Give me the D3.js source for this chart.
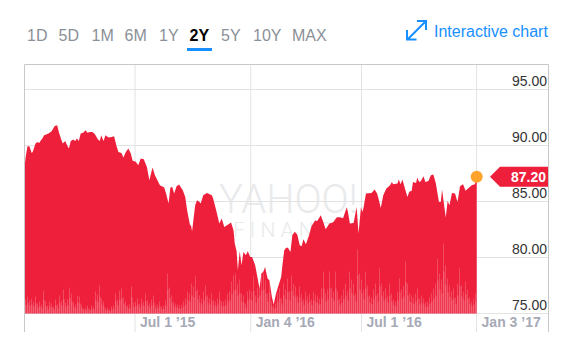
<!DOCTYPE html>
<html lang="en">
<head>
<meta charset="UTF-8">
<title>2Y price chart</title>
<script src="https://cdn.jsdelivr.net/npm/d3@7"></script>
<style>
    html, body { margin: 0; padding: 0; background: #fff; }
    svg { display: block; font-family: "Liberation Sans", Arial, sans-serif; }
    .range { font-size: 16px; fill: #8b9097; }
    .range.active { fill: #000; font-weight: bold; }
    .y-axis text { font-size: 14px; fill: #333; }
    .x-axis text { font-size: 14px; font-weight: bold; fill: #a6a9b6; }
    .domain { display: none; }
</style>
</head>
<body>
<svg id="chart" width="583" height="362"></svg>
<script>
// range buttons
var ranges = ['1D', '5D', '1M', '6M', '1Y', '2Y', '5Y', '10Y', 'MAX'];
var activeRange = '2Y';

// days since the first session, and the price on that day
var startDate = new Date(2015, 0, 5);
var days = [0,1,4,7,11,13,17,20,23,25,28,31,38,43,48,52,55,59,61,65,68,71,74,78,81,84,87,90,94,98,101,105,109,113,118,121,123,127,130,135,140,144,148,151,156,159,163,167,171,174,179,183,187,192,197,201,206,210,214,218,225,228,232,235,238,241,245,249,255,259,262,267,268,270,275,278,282,284,288,294,302,304,309,314,318,322,329,333,337,339,342,344,347,350,353,357,360,364,367,372,376,379,382,385,388,392,395,399,402,405,409,414,416,419,422,425,429,432,436,440,444,447,450,454,459,463,469,472,478,482,486,492,498,504,509,514,520,522,525,531,536,539,543,545,547,551,560,565,569,572,575,579,584,590,593,595,602,604,607,610,614,618,621,625,627,632,634,637,640,644,647,652,656,660,664,669,672,674,677,680,683,686,690,695,699,703,708,712,716,722,727,730];
var prices = [88.42,88.96,89.94,89.94,89.31,89.52,90.18,90.32,90.23,90.41,90.63,90.92,91.07,91.28,91.75,91.81,91.13,90.47,90.18,90.41,90.03,89.73,90.41,90.54,90.41,90.63,90.41,91.07,91.13,91.37,91.13,91.21,91.21,91.01,90.54,90.41,90.92,90.41,90.92,90.71,90.77,90.83,89.94,89.43,89.34,88.93,89.43,89.73,89.29,88.64,88.54,88.24,88.84,88.78,88.09,86.90,88.04,87.35,86.90,86.46,86.25,85.71,84.82,86.25,86.30,85.71,86.37,86.52,86.01,85.41,84.22,82.79,82.97,82.35,84.67,85.12,84.96,84.82,85.56,85.77,85.56,85.27,84.22,83.04,83.48,82.73,82.97,83.13,82.44,81.25,80.56,78.87,80.56,79.31,80.50,80.21,80.56,80.05,80.05,79.31,78.13,77.23,78.57,78.71,79.16,78.13,77.97,76.48,75.80,76.63,77.38,78.27,79.31,80.65,80.86,80.86,80.50,81.99,82.29,82.05,81.10,81.01,81.63,81.19,81.99,82.79,83.33,83.24,83.78,83.18,82.53,83.04,83.15,83.60,83.60,83.51,84.49,84.04,83.04,83.09,84.52,82.14,84.52,84.07,84.40,85.71,85.77,86.07,85.71,85.12,84.43,85.56,86.16,86.46,86.75,86.54,86.61,86.96,86.54,86.96,86.16,85.41,85.86,85.95,86.75,86.66,87.14,86.75,86.84,87.26,86.75,86.84,87.35,87.41,86.61,84.96,84.96,86.07,84.82,83.57,85.05,84.67,85.77,85.71,84.96,86.37,86.54,85.95,86.16,86.46,86.54,87.20];

// volume, no axis in the picture so the unit is arbitrary
var volumes = [14,17,13,15,12,17,10,12,9,23,12,8,12,10,7,14,9,18,13,24,11,14,26,20,11,9,18,17,9,5,6,8,5,8,7,22,19,28,15,12,5,6,4,7,8,20,14,23,25,16,12,8,9,27,11,12,15,10,15,12,20,13,10,14,18,8,9,12,7,8,13,40,26,18,12,10,9,8,9,12,15,22,20,30,27,37,24,18,15,22,28,18,15,20,14,12,15,22,12,12,14,20,22,32,38,40,30,34,20,18,10,22,24,
    22,37,18,26,30,38,40,33,20,35,12,8,10,20,25,15,30,24,35,22,38,30,27,18,27,20,14,22,17,20,14,22,19,17,15,25,42,20,24,42,26,22,42,22,15,18,24,30,22,42,34,30,20,64,40,34,24,42,28,18,16,24,30,20,45,30,22,25,18,30,20,14,12,22,35,24,28,52,30,20,18,16,20,25,15,18,15,11,12,16,20,25,30,55,40,34,70,48,35,28,22,25,16,30,45,28,22,32,24,16,12,15,20];

// axis ticks
var yTicks = [75, 80, 85, 90, 95];
var xTickDates = [new Date(2015, 6, 1), new Date(2016, 0, 4), new Date(2016, 6, 1), new Date(2017, 0, 3)];
var xTickLabels = ['Jul 1 ’15', 'Jan 4 ’16', 'Jul 1 ’16', 'Jan 3 ’17'];

var red = '#ee1f3b';
var blue = '#188fff';

var svg = d3.select('#chart');

var dates = days.map(function (d) { return d3.timeDay.offset(startDate, d); });
var lastPrice = prices[prices.length - 1];

var x = d3.scaleTime()
    .domain([startDate, dates[dates.length - 1]])
    .range([25, 476.7]);

var y = d3.scaleLinear()
    .domain([75, 95])
    .range([313.5, 89.5]);

var xVol = d3.scaleBand()
    .domain(d3.range(volumes.length))
    .range([25, 477]);

var yVol = d3.scaleLinear()
    .domain([0, 70])
    .range([313.5, 243.5]);

// range buttons
var rangeX = [27, 58.5, 91.5, 124.5, 159, 189.5, 221, 253, 292];
svg.append('g').selectAll('text')
    .data(ranges)
    .enter()
    .append('text')
    .attr('class', function (d) { return d === activeRange ? 'range active' : 'range'; })
    .attr('x', function (d, i) { return rangeX[i]; })
    .attr('y', 41)
    .text(function (d) { return d; });

svg.append('rect')
    .attr('x', 187).attr('y', 48)
    .attr('width', 25).attr('height', 3)
    .attr('fill', blue);

// interactive chart link
svg.append('path')
    .attr('d', 'M408 39L425 22M417 21H426V30M407 30V39.5H416.5')
    .attr('fill', 'none')
    .attr('stroke', blue)
    .attr('stroke-width', 2);

svg.append('text')
    .attr('x', 434).attr('y', 37)
    .attr('font-size', 16)
    .attr('fill', blue)
    .text('Interactive chart');

// watermark sits under the area, one text with two lines
var mark = svg.append('text')
    .attr('font-family', 'Roboto, sans-serif')
    .attr('font-weight', 300)
    .attr('fill', '#e8eaec');

mark.append('tspan')
    .attr('x', 219).attr('y', 213)
    .attr('font-size', 40)
    .text('YAHOO!');

mark.append('tspan')
    .attr('x', 233).attr('y', 237)
    .attr('font-size', 21)
    .attr('letter-spacing', 5)
    .text('FINANCE');

// horizontal grid
svg.append('g').selectAll('line')
    .data(yTicks)
    .enter()
    .append('line')
    .attr('x1', 25).attr('x2', 548)
    .attr('y1', function (d) { return y(d); })
    .attr('y2', function (d) { return y(d); })
    .attr('stroke', '#e3e3e3');

// x axis with long ticks up through the plot
var xAxis = d3.axisBottom(x)
    .tickValues(xTickDates)
    .tickSize(0)
    .tickPadding(0)
    .tickFormat(function (d, i) { return xTickLabels[i]; });

var gx = svg.append('g')
    .attr('class', 'x-axis')
    .attr('transform', 'translate(0, 313.5)')
    .call(xAxis);

gx.selectAll('.tick line')
    .attr('y1', -249)
    .attr('y2', 18.5)
    .attr('stroke', '#e3e3e3');

gx.selectAll('.tick text')
    .attr('text-anchor', 'start')
    .attr('x', 5)
    .attr('y', 13.5)
    .attr('dy', 0);

// price area
var area = d3.area()
    .x(function (d, i) { return x(dates[i]); })
    .y0(y(75))
    .y1(function (d) { return y(d); });

svg.append('defs').append('clipPath')
    .attr('id', 'price-clip')
    .append('path')
    .attr('d', area(prices));

svg.append('path')
    .attr('d', area(prices))
    .attr('fill', red);

// volume bars stay inside the area, a low wide bar and a thin bright core
var volumeLayer = svg.append('g')
    .attr('clip-path', 'url(#price-clip)');

volumeLayer.selectAll('rect.vol-base')
    .data(volumes)
    .enter()
    .append('rect')
    .attr('class', 'vol-base')
    .attr('x', function (d, i) { return Math.round(xVol(i)); })
    .attr('y', function (d) { return yVol(d * 0.6); })
    .attr('width', 2)
    .attr('height', function (d) { return yVol(0) - yVol(d * 0.6); })
    .attr('fill', '#fff')
    .attr('fill-opacity', 0.12);

volumeLayer.selectAll('rect.vol-core')
    .data(volumes)
    .enter()
    .append('rect')
    .attr('class', 'vol-core')
    .attr('x', function (d, i) { return Math.round(xVol(i)); })
    .attr('y', function (d) { return yVol(d); })
    .attr('width', 1)
    .attr('height', function (d) { return yVol(0) - yVol(d); })
    .attr('fill', '#fff')
    .attr('fill-opacity', 0.2);

// frame
svg.append('path')
    .attr('d', 'M24.5 332V64.5H548.5V332')
    .attr('fill', 'none')
    .attr('stroke', '#c8c8c8');

// y axis labels
var yAxis = d3.axisLeft(y)
    .tickValues(yTicks)
    .tickSize(0)
    .tickPadding(0)
    .tickFormat(d3.format('.2f'));

var gy = svg.append('g')
    .attr('class', 'y-axis')
    .attr('transform', 'translate(547, 0)')
    .call(yAxis);

gy.selectAll('.tick text')
    .attr('dy', -4);

// last price flag
var lastY = y(lastPrice);

svg.append('path')
    .attr('d', 'M490 ' + lastY + 'L500 ' + (lastY - 10) + 'H548V' + (lastY + 10) + 'H500Z')
    .attr('fill', red);

svg.append('text')
    .attr('x', 546).attr('y', lastY + 5)
    .attr('text-anchor', 'end')
    .attr('font-size', 14)
    .attr('font-weight', 'bold')
    .attr('fill', '#fff')
    .text(d3.format('.2f')(lastPrice));

svg.append('circle')
    .attr('cx', x(dates[dates.length - 1]))
    .attr('cy', lastY)
    .attr('r', 6)
    .attr('fill', '#ffa32b');
</script>
</body>
</html>
